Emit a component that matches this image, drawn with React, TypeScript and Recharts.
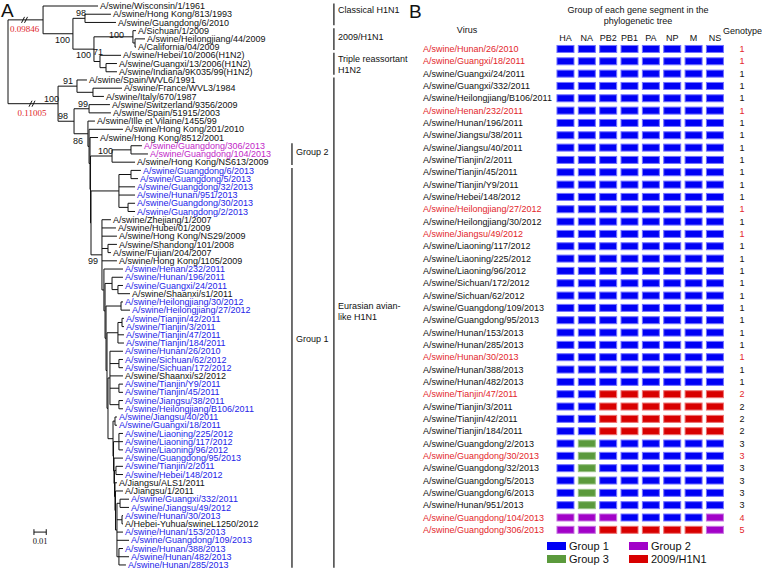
import React from "react";
import { ScatterChart, Scatter, XAxis, YAxis, ReferenceLine, Legend } from "recharts";

const SANS = "'Liberation Sans', Arial, sans-serif";
const SERIF = "'Liberation Serif', 'Times New Roman', serif";

// ---------- panel A: phylogenetic tree ----------
const leafNames = [
  "A/swine/Wisconsin/1/1961", "A/swine/Hong Kong/813/1993", "A/swine/Guangdong/6/2010",
  "A/Sichuan/1/2009", "A/swine/Heilongjiang/44/2009", "A/California/04/2009",
  "A/swine/Hebei/10/2006(H1N2)", "A/swine/Guangxi/13/2006(H1N2)", "A/swine/Indiana/9K035/99(H1N2)",
  "A/swine/Spain/WVL6/1991", "A/swine/France/WVL3/1984", "A/swine/Italy/670/1987",
  "A/swine/Switzerland/9356/2009", "A/swine/Spain/51915/2003", "A/swine/Ille et Vilaine/1455/99",
  "A/swine/Hong Kong/201/2010", "A/swine/Hong Kong/8512/2001", "A/swine/Guangdong/306/2013",
  "A/swine/Guangdong/104/2013", "A/swine/Hong Kong/NS613/2009", "A/swine/Guangdong/6/2013",
  "A/swine/Guangdong/5/2013", "A/swine/Guangdong/32/2013", "A/swine/Hunan/951/2013",
  "A/swine/Guangdong/30/2013", "A/swine/Guangdong/2/2013", "A/swine/Zhejiang/1/2007",
  "A/swine/Hubei/01/2009", "A/swine/Hong Kong/NS29/2009", "A/swine/Shandong/101/2008",
  "A/swine/Fujian/204/2007", "A/swine/Hong Kong/1105/2009", "A/swine/Henan/232/2011",
  "A/swine/Hunan/196/2011", "A/swine/Guangxi/24/2011", "A/swine/Shaanxi/s1/2011",
  "A/swine/Heilongjiang/30/2012", "A/swine/Heilongjiang/27/2012", "A/swine/Tianjin/42/2011",
  "A/swine/Tianjin/3/2011", "A/swine/Tianjin/47/2011", "A/swine/Tianjin/184/2011",
  "A/swine/Hunan/26/2010", "A/swine/Sichuan/62/2012", "A/swine/Sichuan/172/2012",
  "A/swine/Shaanxi/s2/2012", "A/swine/Tianjin/Y9/2011", "A/swine/Tianjin/45/2011",
  "A/swine/Jiangsu/38/2011", "A/swine/Heilongjiang/B106/2011", "A/swine/Jiangsu/40/2011",
  "A/swine/Guangxi/18/2011", "A/swine/Liaoning/225/2012", "A/swine/Liaoning/117/2012",
  "A/swine/Liaoning/96/2012", "A/swine/Guangdong/95/2013", "A/swine/Tianjin/2/2011",
  "A/swine/Hebei/148/2012", "A/Jiangsu/ALS1/2011", "A/Jiangsu/1/2011",
  "A/swine/Guangxi/332/2011", "A/swine/Jiangsu/49/2012", "A/swine/Hunan/30/2013",
  "A/Hebei-Yuhua/swineL1250/2012", "A/swine/Hunan/153/2013", "A/swine/Guangdong/109/2013",
  "A/swine/Hunan/388/2013", "A/swine/Hunan/482/2013", "A/swine/Hunan/285/2013",
];
// k = reference strain, b = group 1 isolate, p = group 2 isolate
const leafClade = ("kkkkkkkkkkkkkkkkk" + "pp" + "k" + "bbbbbb" + "kkkkkk" + "bbb" + "k" +
  "bbbbbbbbb" + "k" + "bbbbbbbbbbbb" + "kk" + "bbb" + "k" + "bbbbb").split("");
// distance from root (substitutions/site; the two root branches are drawn shortened)
const leafTip = [
  0.0732, 0.0837, 0.0878, 0.1041, 0.1114, 0.1041, 0.0919, 0.0886, 0.0886,
  0.0642, 0.0927, 0.0780, 0.0829, 0.0837, 0.0707, 0.0935, 0.0732, 0.1089,
  0.1138, 0.1033, 0.1081, 0.1057, 0.1033, 0.1033, 0.1033, 0.1033, 0.0837,
  0.0878, 0.0886, 0.0886, 0.0837, 0.0886, 0.0935, 0.0935, 0.0935, 0.0992,
  0.0935, 0.0992, 0.0943, 0.0943, 0.0943, 0.0943, 0.0935, 0.0935, 0.0935,
  0.0935, 0.0935, 0.0935, 0.0935, 0.0935, 0.0886, 0.0886, 0.0935, 0.0935,
  0.0935, 0.0935, 0.0935, 0.0935, 0.0886, 0.0935, 0.0984, 0.0984, 0.0935,
  0.0935, 0.0935, 0.0984, 0.0935, 0.0984, 0.0959,
];
const leafParent = [
  "U", "W", "W", "Y", "Y2", "Y2", "Z", "Z2", "Z2",
  "SFI", "SFI2", "SFI2", "S99", "S99", "Q", "R", "S", "G2a",
  "G2a", "G2", "G1b", "G1b", "G1a", "G1a", "G1c", "G1c", "N99",
  "N99", "N99", "SF", "SF", "N99", "G1", "H1", "H2", "H2",
  "HL", "HL", "TJ1", "TJ1", "TJ", "TJ", "E", "SC", "SC",
  "E", "TY", "TY", "JH", "JH", "JG", "JG", "LN", "LN",
  "LN", "f3", "TH", "TH", "f5", "f6", "GX", "GX", "HY",
  "HY", "K", "K", "HN", "HN", "HN",
];
const nodeIds = [
  "root", "U", "V", "W", "X", "Y", "Y2", "Z", "Z2",
  "L", "SFI", "SFI2", "M", "S99", "Q", "R", "S", "T", "U2",
  "G2", "G2a", "G1a", "G1b", "G1c", "N99", "SF",
  "G1", "g2", "g3", "g4", "g5", "H1", "H2", "HL", "TJ", "TJ1",
  "E", "SC", "TY", "JH", "F", "JG", "f2", "LN", "f3", "f4", "TH", "f5", "f6",
  "K", "GX", "HY", "HN",
];
const nodeParent = [
  "", "root", "U", "V", "V", "X", "Y", "X", "Z",
  "root", "L", "SFI", "L", "M", "M", "Q", "R", "S", "T",
  "T", "G2", "U2", "G1a", "G1a", "U2", "N99",
  "N99", "G1", "g2", "g3", "g4", "g2", "H1", "g3", "g4", "TJ",
  "g5", "E", "E", "E", "g5", "F", "F", "f2", "f2", "f3", "f4", "f4", "f5",
  "f6", "K", "K", "K",
];
const nodeX = [
  0, 0.0285, 0.0528, 0.0626, 0.0699, 0.1016, 0.1033, 0.0748, 0.0797,
  0.0407, 0.0561, 0.0691, 0.0537, 0.0659, 0.0650, 0.0659, 0.0667, 0.0671, 0.0675,
  0.0846, 0.1000, 0.0902, 0.1000, 0.0976, 0.0764, 0.0813,
  0.0780, 0.0789, 0.0797, 0.0805, 0.0813, 0.0846, 0.0894, 0.0919, 0.0894, 0.0927,
  0.0829, 0.0902, 0.0902, 0.0902, 0.0854, 0.0870, 0.0858, 0.0902, 0.0862, 0.0866, 0.0878, 0.0870, 0.0874,
  0.0886, 0.0911, 0.0927, 0.0902,
];
const nodeSupport: Record<string, number> = {
  V: 100, W: 98, X: 100, Y: 100, Z: 71, L: 100, SFI: 91, M: 98, S99: 99, R: 86, G2: 100, N99: 99,
};
const brokenBranch: Record<string, string> = { U: "0.09846", L: "0.11005" };

const bracketLabels = [["Classical H1N1"], ["2009/H1N1"], ["Triple reassortant", "H1N2"],
  ["Eurasian avian-", "like H1N1"], ["Group 2"], ["Group 1"]];
const bracketFirst = [0, 3, 6, 9, 17, 20];
const bracketLast = [2, 5, 8, 68, 19, 68];
// layout only: bracket columns, label anchors, support label placement (px nudges)
const bracketX = [0.265, 0.265, 0.265, 0.265, 0.2309, 0.2309];
const bracketLabelAt = [0.5, 3.8, 7.05, 37.1, 17.8, 40.5];
const supportBelow = new Set(["V", "X", "N99"]);
const supportNudge: Record<string, [number, number]> = {
  V: [-4, 0], X: [-4, 0], Y: [-10, 3.5], Z: [2, -4], SFI: [-5, 0], M: [-7, 0], R: [-7, 0], N99: [-5, 0], S99: [-2, 0],
};

const CLADE_COLOR: Record<string, string> = { k: "#111", b: "#2424e8", p: "#c21fc8" };

function buildTree() {
  const idx = new Map(nodeIds.map((id, i) => [id, i] as [string, number]));
  const kids: { leaf: boolean; i: number }[][] = nodeIds.map(() => []);
  leafParent.forEach((p, i) => kids[idx.get(p)!].push({ leaf: true, i }));
  nodeParent.forEach((p, i) => { if (p) kids[idx.get(p)!].push({ leaf: false, i }); });
  const ny: number[] = [];
  const span: [number, number][] = [];
  const yOf = (n: number): number => {
    if (ny[n] !== undefined) return ny[n];
    const ys = kids[n].map((c) => (c.leaf ? c.i : yOf(c.i)));
    const lo = Math.min(...ys), hi = Math.max(...ys);
    span[n] = [lo, hi];
    ny[n] = (lo + hi) / 2;
    return ny[n];
  };
  nodeIds.forEach((_, n) => yOf(n));
  const edges: { x1: number; y1: number; x2: number; y2: number }[] = [];
  nodeIds.forEach((_, n) => {
    edges.push({ x1: nodeX[n], y1: span[n][0], x2: nodeX[n], y2: span[n][1] });
    const p = nodeParent[n];
    if (p) edges.push({ x1: nodeX[idx.get(p)!], y1: ny[n], x2: nodeX[n], y2: ny[n] });
  });
  leafParent.forEach((p, i) => edges.push({ x1: nodeX[idx.get(p)!], y1: i, x2: leafTip[i], y2: i }));
  const support = nodeIds.filter((id) => nodeSupport[id]).map((id) => {
    const n = idx.get(id)!;
    return { x: nodeX[n], y: ny[n], label: nodeSupport[id], below: supportBelow.has(id), nudge: supportNudge[id] || [0, 0] };
  });
  const breaks = Object.keys(brokenBranch).map((id) => {
    const n = idx.get(id)!;
    return { x: nodeX[n] / 2, y: ny[n], label: brokenBranch[id] };
  });
  return { edges, support, breaks };
}

const tree = buildTree();
const leafPoints = leafNames.map((name, i) => ({ x: leafTip[i], y: i, name, clade: leafClade[i] }));
const bracketPoints = bracketLabels.map((lines, i) => ({ x: bracketX[i], y: bracketLabelAt[i], lines }));

const LeafLabel = (p: any) => (
  <text x={p.cx + 2} y={p.cy} dy="0.35em" fontSize={9} fontFamily={SANS} fill={CLADE_COLOR[p.payload.clade]}>
    {p.payload.name}
  </text>
);
const SupportLabel = (p: any) => {
  const [dx, dy] = p.payload.nudge;
  return (
    <text x={p.cx + 1 + dx} y={(p.payload.below ? p.cy + 9 : p.cy - 2) + dy} textAnchor="end" fontSize={9} fontFamily={SANS} fill="#111">
      {p.payload.label}
    </text>
  );
};
const BreakMark = (p: any) => (
  <g>
    <line x1={p.cx - 4} y1={p.cy + 3} x2={p.cx - 1} y2={p.cy - 3} stroke="#111" />
    <line x1={p.cx - 1} y1={p.cy + 3} x2={p.cx + 2} y2={p.cy - 3} stroke="#111" />
    <text x={p.cx - 1} y={p.cy + 9} dy="0.35em" textAnchor="middle" fontSize={9} fontFamily={SERIF} fill="#e0262b">
      {p.payload.label}
    </text>
  </g>
);
const BracketLabel = (p: any) => (
  <text x={p.cx + 4} y={p.cy - (p.payload.lines.length - 1) * 5.5} fontSize={9} fontFamily={SANS} fill="#111">
    {p.payload.lines.map((l: string, i: number) => (
      <tspan key={i} x={p.cx + 4} dy={i === 0 ? "0.35em" : 11}>{l}</tspan>
    ))}
  </text>
);

function TreePanel() {
  const scaleX0 = 0.0211, scaleY = 64;
  return (
    <div style={{ position: "absolute", left: 0, top: 0 }}>
      <ScatterChart width={420} height={574} margin={{ top: 0, right: 0, bottom: 0, left: 8 }}>
        <XAxis type="number" dataKey="x" domain={[0, 0.335]} hide allowDataOverflow />
        <YAxis type="number" dataKey="y" domain={[-0.73, 69.1]} reversed hide allowDataOverflow />
        {tree.edges.map((e, i) => (
          <ReferenceLine key={i} segment={[{ x: e.x1, y: e.y1 }, { x: e.x2, y: e.y2 }]} stroke="#111" strokeWidth={1} ifOverflow="visible" />
        ))}
        {bracketLabels.map((_, i) => (
          <ReferenceLine key={"b" + i} segment={[{ x: bracketX[i], y: bracketFirst[i] - 0.3 }, { x: bracketX[i], y: bracketLast[i] + 0.35 }]}
            stroke="#111" strokeWidth={1.2} ifOverflow="visible" />
        ))}
        <ReferenceLine segment={[{ x: scaleX0, y: scaleY }, { x: scaleX0 + 0.01, y: scaleY }]} stroke="#111" ifOverflow="visible" />
        <ReferenceLine segment={[{ x: scaleX0, y: scaleY - 0.35 }, { x: scaleX0, y: scaleY + 0.35 }]} stroke="#111" ifOverflow="visible" />
        <ReferenceLine segment={[{ x: scaleX0 + 0.01, y: scaleY - 0.35 }, { x: scaleX0 + 0.01, y: scaleY + 0.35 }]} stroke="#111" ifOverflow="visible" />
        <Scatter data={[{ x: scaleX0 + 0.005, y: scaleY }]} isAnimationActive={false}
          shape={(p: any) => <text x={p.cx} y={p.cy + 9} dy="0.35em" textAnchor="middle" fontSize={8.5} fontFamily={SERIF} fill="#111">0.01</text>} />
        <Scatter data={leafPoints} shape={LeafLabel} isAnimationActive={false} />
        <Scatter data={tree.support} shape={SupportLabel} isAnimationActive={false} />
        <Scatter data={tree.breaks} shape={BreakMark} isAnimationActive={false} />
        <Scatter data={bracketPoints} shape={BracketLabel} isAnimationActive={false} />
      </ScatterChart>
    </div>
  );
}

// ---------- panel B: genotype grid ----------
const viruses = [
  "A/swine/Hunan/26/2010", "A/swine/Guangxi/18/2011", "A/swine/Guangxi/24/2011", "A/swine/Guangxi/332/2011",
  "A/swine/Heilongjiang/B106/2011", "A/swine/Henan/232/2011", "A/swine/Hunan/196/2011", "A/swine/Jiangsu/38/2011",
  "A/swine/Jiangsu/40/2011", "A/swine/Tianjin/2/2011", "A/swine/Tianjin/45/2011", "A/swine/Tianjin/Y9/2011",
  "A/swine/Hebei/148/2012", "A/swine/Heilongjiang/27/2012", "A/swine/Heilongjiang/30/2012", "A/swine/Jiangsu/49/2012",
  "A/swine/Liaoning/117/2012", "A/swine/Liaoning/225/2012", "A/swine/Liaoning/96/2012", "A/swine/Sichuan/172/2012",
  "A/swine/Sichuan/62/2012", "A/swine/Guangdong/109/2013", "A/swine/Guangdong/95/2013", "A/swine/Hunan/153/2013",
  "A/swine/Hunan/285/2013", "A/swine/Hunan/30/2013", "A/swine/Hunan/388/2013", "A/swine/Hunan/482/2013",
  "A/swine/Tianjin/47/2011", "A/swine/Tianjin/3/2011", "A/swine/Tianjin/42/2011", "A/swine/Tianjin/184/2011",
  "A/swine/Guangdong/2/2013", "A/swine/Guangdong/30/2013", "A/swine/Guangdong/32/2013", "A/swine/Guangdong/5/2013",
  "A/swine/Guangdong/6/2013", "A/swine/Hunan/951/2013", "A/swine/Guangdong/104/2013", "A/swine/Guangdong/306/2013",
];
const highlighted = [0, 1, 5, 13, 15, 25, 28, 33, 38, 39];
const genotype = [
  1, 1, 1, 1, 1, 1, 1, 1, 1, 1, 1, 1, 1, 1, 1, 1, 1, 1, 1, 1,
  1, 1, 1, 1, 1, 1, 1, 1, 2, 2, 2, 2, 3, 3, 3, 3, 3, 3, 4, 5,
];
const segments = ["HA", "NA", "PB2", "PB1", "PA", "NP", "M", "NS"];
const genotype1 = ["G1", "G1", "G1", "G1", "G1", "G1", "G1", "G1"];
const genotype2 = ["G1", "G1", "pdm", "pdm", "pdm", "pdm", "pdm", "pdm"];
const genotype3 = ["G1", "G3", "G1", "G1", "G1", "G1", "G1", "G1"];
const genotype4 = ["G2", "G2", "G2", "G1", "G1", "G1", "G1", "G2"];
const genotype5 = ["G2", "G2", "pdm", "pdm", "pdm", "pdm", "pdm", "G2"];
const patterns: Record<number, string[]> = { 1: genotype1, 2: genotype2, 3: genotype3, 4: genotype4, 5: genotype5 };
const groupKeys = ["G1", "G2", "G3", "pdm"];
const groupNames = ["Group 1", "Group 2", "Group 3", "2009/H1N1"];
const groupFill = ["#0000f5", "#a202c8", "#5b9a3c", "#d80000"];
const groupEdge = ["#7373ff", "#c774e2", "#98c285", "#ee7272"];

const cells = viruses.flatMap((_, row) => segments.map((_, seg) => ({ seg, row, group: patterns[genotype[row]][seg] })));
const rowTicks = viruses.map((_, i) => i);
const RED = "#e3262b";

const SegTick = (p: any) => (
  <text x={p.x} y={p.y - 4.5} dy="0.35em" textAnchor="middle" fontSize={9} fontFamily={SANS} fill="#111">
    {segments[p.payload.value]}
  </text>
);
const VirusTick = (p: any) => (
  <text x={p.x - 131.8} y={p.y} dy="0.35em" fontSize={9} fontFamily={SANS}
    fill={highlighted.includes(p.payload.value) ? RED : "#111"}>
    {viruses[p.payload.value]}
  </text>
);
const GenotypeTick = (p: any) => (
  <text x={p.x + 16.4} y={p.y} dy="0.35em" textAnchor="middle" fontSize={9} fontFamily={SANS}
    fill={highlighted.includes(p.payload.value) ? RED : "#111"}>
    {genotype[p.payload.value]}
  </text>
);
const cellShape = (fill: string, edge: string) => (p: any) => (
  <rect x={p.cx - 8.5} y={p.cy - 3.5} width={17} height={7} fill={fill} stroke={edge} strokeWidth={1} />
);
const LegendBox = ({ payload }: any) => {
  const items = [...(payload || [])].sort((a: any, b: any) => groupNames.indexOf(a.value) - groupNames.indexOf(b.value));
  return (
    <div style={{ display: "grid", gridTemplateColumns: "82px 100px", fontFamily: SANS, fontSize: 11, color: "#111" }}>
      {items.map((p: any) => (
        <div key={p.value} style={{ display: "flex", alignItems: "center", height: 13 }}>
          <span style={{ display: "inline-block", width: 19, height: 8, background: p.color, marginRight: 3 }} />
          {p.value}
        </div>
      ))}
    </div>
  );
};

function GenotypePanel() {
  return (
    <div style={{ position: "absolute", left: 370, top: 0 }}>
      <ScatterChart width={392} height={574} margin={{ top: 22.8, right: 0, bottom: 38, left: 0 }}>
        <XAxis type="number" dataKey="seg" orientation="top" domain={[-0.5, 7.5]} ticks={segments.map((_, i) => i)}
          interval={0} height={20} tick={SegTick} tickLine={false} axisLine={false} tickSize={0} tickMargin={0} allowDataOverflow />
        <YAxis type="number" dataKey="row" domain={[-0.5, 39.5]} ticks={rowTicks} reversed interval={0} width={184.8}
          tick={VirusTick} tickLine={false} axisLine={false} tickSize={0} tickMargin={0} allowDataOverflow />
        <YAxis yAxisId="g" orientation="right" type="number" domain={[-0.5, 39.5]} ticks={rowTicks} reversed interval={0}
          width={36.4} tick={GenotypeTick} tickLine={false} axisLine={false} tickSize={0} tickMargin={0} allowDataOverflow />
        {groupKeys.map((g, i) => (
          <Scatter key={g} name={groupNames[i]} data={cells.filter((c) => c.group === g)} fill={groupFill[i]}
            shape={cellShape(groupFill[i], groupEdge[i])} isAnimationActive={false} />
        ))}
        <Legend layout="horizontal" verticalAlign="middle" align="center" content={LegendBox}
          wrapperStyle={{ left: 177, top: 539, width: 200, height: 26 }} />
      </ScatterChart>
    </div>
  );
}

const Txt = ({ x, y, size = 9, anchor = "middle", children }: any) => (
  <div style={{
    position: "absolute", left: x, top: y, fontSize: size, lineHeight: 1, whiteSpace: "nowrap", color: "#111",
    transform: `translate(${anchor === "middle" ? "-50%" : "0"}, -50%)`,
  }}>{children}</div>
);

export default function App() {
  return (
    <div style={{ position: "absolute", left: 0, top: 0, width: 762, height: 574, background: "#fff", overflow: "hidden", fontFamily: SANS }}>
      <TreePanel />
      <GenotypePanel />
      <Txt x={1} y={10} size={19} anchor="start">A</Txt>
      <Txt x={409} y={11} size={19} anchor="start">B</Txt>
      <Txt x={467} y={30}>Virus</Txt>
      <Txt x={638} y={10}>Group of each gene segment in the</Txt>
      <Txt x={638} y={21}>phylogenetic tree</Txt>
      <Txt x={742.5} y={31}>Genotype</Txt>
    </div>
  );
}
